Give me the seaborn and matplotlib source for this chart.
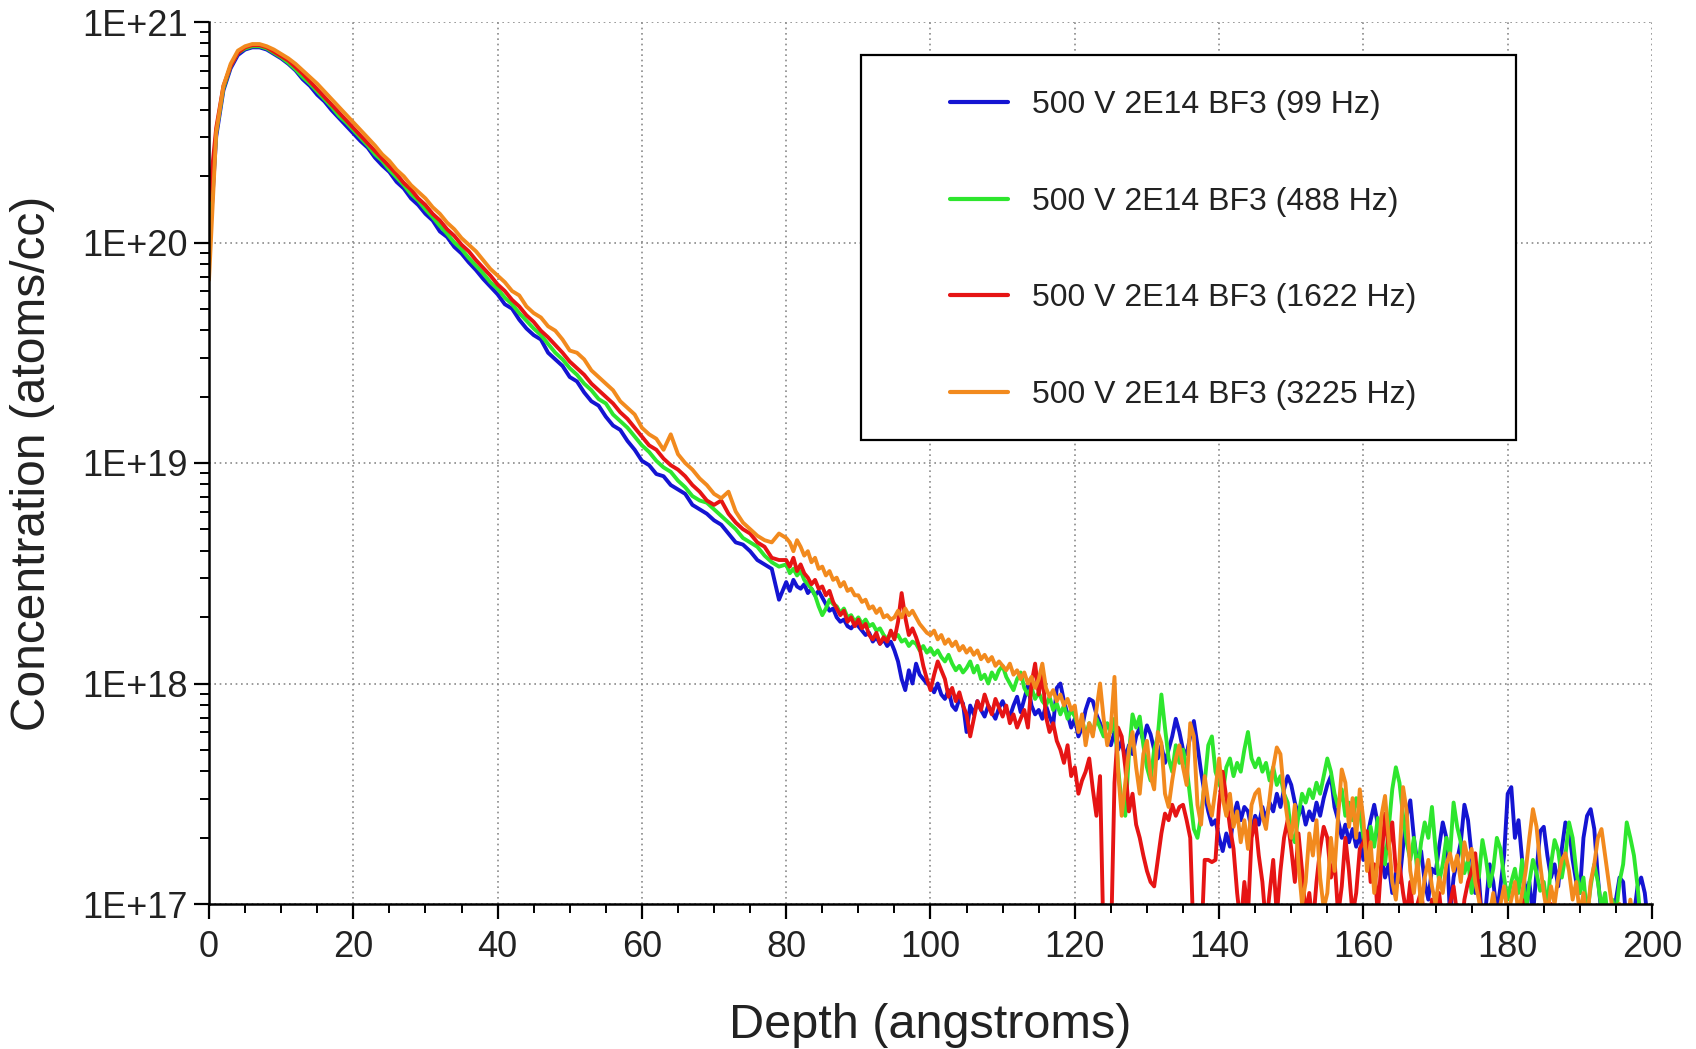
import numpy as np
import pandas as pd
import matplotlib
matplotlib.use("Agg")
import matplotlib.pyplot as plt
import seaborn as sns
from matplotlib.lines import Line2D
from matplotlib.patches import Rectangle
from matplotlib.ticker import LogLocator, MultipleLocator, FuncFormatter, NullFormatter, FixedLocator

# ---------------- data (log10 of concentration, atoms/cc) ----------------
series_names = ["500 V 2E14 BF3 (99 Hz)", "500 V 2E14 BF3 (488 Hz)",
                "500 V 2E14 BF3 (1622 Hz)", "500 V 2E14 BF3 (3225 Hz)"]
series_colors = ["#1414d2", "#2ee62e", "#e61414", "#f28a1e"]

depth_a = np.arange(0, 80, 1.0)        # 0 .. 79 A
depth_b = np.arange(80, 200, 0.5)      # 80 .. 199.5 A

blue_a = [
    19.95, 20.48, 20.69, 20.79, 20.85, 20.875, 20.885, 20.885, 20.875, 20.855,
    20.835, 20.81, 20.78, 20.74, 20.71, 20.67, 20.64, 20.60, 20.565, 20.53,
    20.495, 20.46, 20.43, 20.385, 20.35, 20.32, 20.275, 20.245, 20.20, 20.17,
    20.13, 20.10, 20.05, 20.025, 19.98, 19.95, 19.91, 19.875, 19.835, 19.80,
    19.765, 19.72, 19.70, 19.65, 19.61, 19.58, 19.56, 19.50, 19.47, 19.44,
    19.39, 19.37, 19.32, 19.28, 19.26, 19.21, 19.17, 19.15, 19.10, 19.06,
    19.01, 18.99, 18.95, 18.94, 18.90, 18.88, 18.86, 18.81, 18.79, 18.77,
    18.74, 18.72, 18.68, 18.64, 18.63, 18.60, 18.56, 18.54, 18.52, 18.38,
]
blue_b = [
    18.46, 18.42, 18.47, 18.44, 18.43, 18.45, 18.41, 18.43, 18.40, 18.42,
    18.39, 18.36, 18.33, 18.34, 18.30, 18.28, 18.29, 18.26, 18.25, 18.27,
    18.26, 18.24, 18.22, 18.23, 18.19, 18.21, 18.18, 18.20, 18.17, 18.19,
    18.15, 18.10, 18.02, 17.97, 18.06, 18.00, 18.09, 18.04, 18.02, 18.00,
    17.99, 17.96, 18.00, 17.95, 17.93, 17.97, 17.90, 17.88, 17.93, 17.91,
    17.78, 17.90, 17.86, 17.92, 17.88, 17.85, 17.90, 17.87, 17.84, 17.89,
    17.92, 17.88, 17.85, 17.90, 17.94, 17.87, 17.93, 17.99, 17.90, 17.86,
    17.88, 17.84, 17.90, 17.85, 17.81, 17.98, 18.00, 17.92, 17.86, 17.80,
    17.84, 17.76, 17.80, 17.88, 17.93, 17.92, 17.86, 17.82, 17.78, 17.75,
    17.72, 17.78, 17.70, 17.74, 17.66, 17.72, 17.68, 17.76, 17.80, 17.74,
    17.81, 17.77, 17.70, 17.66, 17.72, 17.64, 17.70, 17.76, 17.84, 17.78,
    17.70, 17.68, 17.76, 17.83, 17.72, 17.60, 17.50, 17.42, 17.36, 17.38,
    17.30, 17.24, 17.32, 17.26, 17.40, 17.46, 17.38, 17.44, 17.42, 17.34,
    17.40, 17.36, 17.44, 17.38, 17.46, 17.42, 17.50, 17.44, 17.52, 17.58,
    17.54, 17.46, 17.40, 17.44, 17.36, 17.42, 17.38, 17.46, 17.40, 17.48,
    17.54, 17.58, 17.44, 17.38, 17.30, 17.36, 17.28, 17.34, 17.26, 17.32,
    17.20, 17.30, 17.38, 17.45, 17.36, 17.22, 17.12, 17.18, 17.05, 17.14,
    17.10, 17.26, 17.40, 17.47, 17.30, 17.18, 17.24, 17.10, 17.02, 17.16,
    17.14, 17.26, 17.37, 17.30, 16.95, 17.12, 17.20, 17.28, 17.45, 17.38,
    17.22, 17.05, 17.12, 16.90, 17.00, 17.18, 17.10, 16.96, 17.08, 17.22,
    17.50, 17.53, 17.30, 17.38, 17.20, 17.04, 17.10, 16.95, 17.15, 17.33,
    17.35, 17.22, 17.12, 17.18, 17.08, 17.25, 17.37, 17.34, 17.20, 17.10,
    17.05, 17.30, 17.40, 17.43, 17.34, 17.12, 16.95, 16.85, 16.92, 16.88,
    17.02, 17.12, 17.10, 16.90, 16.85, 16.95, 17.08, 17.12, 17.05, 16.90,
]

green_a = [
    19.98, 20.50, 20.70, 20.80, 20.86, 20.88, 20.89, 20.89, 20.88, 20.86,
    20.84, 20.815, 20.785, 20.75, 20.72, 20.685, 20.65, 20.615, 20.575, 20.545,
    20.51, 20.475, 20.44, 20.40, 20.37, 20.33, 20.295, 20.26, 20.22, 20.19,
    20.15, 20.115, 20.075, 20.04, 20.00, 19.97, 19.93, 19.895, 19.86, 19.82,
    19.79, 19.75, 19.72, 19.68, 19.645, 19.61, 19.58, 19.54, 19.50, 19.47,
    19.43, 19.40, 19.36, 19.33, 19.29, 19.27, 19.22, 19.19, 19.16, 19.12,
    19.08, 19.05, 19.01, 18.98, 18.96, 18.92, 18.89, 18.85, 18.83, 18.82,
    18.79, 18.76, 18.73, 18.70, 18.66, 18.64, 18.62, 18.58, 18.55, 18.53,
]
green_b = [
    18.54, 18.50, 18.52, 18.49, 18.51, 18.47, 18.45, 18.43, 18.40, 18.35,
    18.31, 18.34, 18.38, 18.36, 18.35, 18.32, 18.34, 18.30, 18.31, 18.28,
    18.30, 18.27, 18.29, 18.26, 18.27, 18.24, 18.25, 18.22, 18.20, 18.23,
    18.21, 18.22, 18.19, 18.20, 18.17, 18.19, 18.18, 18.15, 18.17, 18.14,
    18.16, 18.13, 18.15, 18.12, 18.10, 18.13, 18.09, 18.06, 18.08, 18.05,
    18.07, 18.10, 18.05, 18.08, 18.02, 18.04, 18.00, 18.05, 18.02, 18.06,
    18.08, 18.03, 18.00, 17.97, 18.02, 18.05, 17.98, 17.95, 17.98, 17.93,
    17.96, 17.92, 17.90, 17.94, 17.88, 17.91, 17.86, 17.90, 17.84, 17.88,
    17.85, 17.80, 17.84, 17.76, 17.82, 17.78, 17.84, 17.80, 17.76, 17.82,
    17.78, 17.84, 17.62, 17.45, 17.40, 17.68, 17.86, 17.80, 17.85, 17.72,
    17.62, 17.56, 17.70, 17.76, 17.95, 17.80, 17.66, 17.60, 17.72, 17.64,
    17.70, 17.62, 17.48, 17.34, 17.30, 17.40, 17.55, 17.72, 17.76, 17.60,
    17.55, 17.50, 17.62, 17.66, 17.58, 17.64, 17.60, 17.70, 17.78, 17.66,
    17.62, 17.66, 17.60, 17.64, 17.56, 17.62, 17.54, 17.58, 17.50, 17.46,
    17.32, 17.28, 17.40, 17.50, 17.46, 17.52, 17.48, 17.55, 17.50, 17.58,
    17.66, 17.60, 17.50, 17.44, 17.52, 17.40, 17.46, 17.38, 17.48, 17.42,
    17.30, 17.22, 17.35, 17.26, 17.39, 17.30, 17.18, 17.34, 17.52, 17.62,
    17.55, 17.40, 17.28, 17.20, 17.30, 17.14, 17.28, 17.37, 17.30, 17.44,
    17.25, 17.10, 17.18, 17.30, 17.22, 17.46, 17.35, 17.28, 17.14, 17.20,
    17.05, 17.18, 17.12, 17.29, 17.20, 17.08, 17.16, 17.30, 17.25, 17.12,
    17.02, 17.10, 17.16, 17.05, 17.20, 16.95, 17.10, 17.20, 17.14, 17.06,
    17.10, 16.98, 17.18, 17.29, 17.24, 17.12, 17.22, 17.37, 17.30, 17.15,
    17.05, 17.12, 16.95, 17.08, 17.18, 17.10, 16.98, 17.05, 16.90, 17.02,
    16.95, 17.10, 17.18, 17.37, 17.30, 17.22, 17.08, 16.90, 16.85, 16.85,
]

red_a = [
    20.19, 20.52, 20.71, 20.80, 20.86, 20.885, 20.895, 20.895, 20.885, 20.865,
    20.845, 20.825, 20.795, 20.765, 20.73, 20.695, 20.66, 20.625, 20.59, 20.555,
    20.52, 20.485, 20.45, 20.415, 20.38, 20.345, 20.31, 20.27, 20.24, 20.20,
    20.17, 20.13, 20.10, 20.06, 20.03, 19.99, 19.96, 19.92, 19.885, 19.85,
    19.81, 19.78, 19.74, 19.71, 19.67, 19.64, 19.60, 19.57, 19.535, 19.50,
    19.46, 19.43, 19.40, 19.36, 19.33, 19.30, 19.27, 19.23, 19.20, 19.16,
    19.12, 19.08, 19.06, 19.02, 18.99, 18.97, 18.94, 18.90, 18.87, 18.83,
    18.81, 18.83, 18.77, 18.73, 18.70, 18.68, 18.64, 18.62, 18.57, 18.56,
]
red_b = [
    18.56, 18.53, 18.57, 18.51, 18.54, 18.50, 18.48, 18.45, 18.47, 18.43,
    18.44, 18.40, 18.42, 18.37, 18.34, 18.31, 18.33, 18.28, 18.30, 18.26,
    18.29, 18.25, 18.27, 18.22, 18.20, 18.23, 18.18, 18.21, 18.19, 18.24,
    18.20, 18.28, 18.41, 18.30, 18.22, 18.25, 18.21, 18.16, 18.08, 18.02,
    17.97, 18.04, 18.10, 18.06, 18.02, 17.94, 17.98, 17.92, 17.96, 17.90,
    17.86, 17.76, 17.84, 17.92, 17.88, 17.95, 17.90, 17.86, 17.93, 17.89,
    17.85, 17.90, 17.82, 17.86, 17.80, 17.84, 17.88, 17.80, 18.00, 18.09,
    17.95, 18.05, 17.85, 17.78, 17.82, 17.74, 17.70, 17.64, 17.72, 17.58,
    17.62, 17.50, 17.56, 17.60, 17.66, 17.52, 17.40, 17.58, 16.80, 16.80,
    16.80, 17.55, 17.80, 17.76, 17.62, 17.42, 17.50, 17.36, 17.30, 17.22,
    17.15, 17.10, 17.08, 17.20, 17.32, 17.41, 17.38, 17.45, 17.40, 17.44,
    17.45, 17.38, 17.30, 16.80, 16.80, 16.80, 17.20, 17.20, 17.19, 17.20,
    17.45, 17.60, 17.48, 17.35, 17.25, 17.05, 16.90, 17.10, 16.95, 17.30,
    17.38, 17.22, 17.10, 16.90, 17.05, 17.20, 16.95, 17.15, 17.30, 17.38,
    17.25, 17.10, 17.32, 17.15, 16.95, 17.05, 16.90, 17.10, 17.25, 17.35,
    17.30, 17.12, 17.20, 16.95, 17.08, 17.30, 17.15, 16.95, 17.05, 17.25,
    17.28, 17.33, 17.10, 17.18, 16.95, 17.20, 17.41, 17.25, 17.37, 17.15,
    17.18, 17.05, 16.95, 17.10, 16.90, 17.00, 17.06, 16.92, 16.85, 17.02,
    16.95, 17.05, 16.90, 16.88, 17.00, 17.08, 16.95, 16.85, 17.02, 17.10,
    17.15, 17.23, 17.05, 16.92, 16.85, 16.98, 17.02, 16.90, 16.85, 16.95,
    16.98, 16.90, 16.85, 16.96, 17.02, 16.92, 16.85, 16.95, 16.98, 16.90,
    16.85, 16.95, 17.00, 16.92, 16.85, 16.96, 16.90, 16.85, 16.95, 16.98,
    16.92, 16.85, 16.95, 16.98, 16.90, 16.85, 16.92, 16.96, 16.88, 16.85,
    16.95, 16.98, 16.90, 16.85, 16.92, 16.85, 16.85, 16.90, 16.85, 16.85,
]

orange_a = [
    19.83, 20.50, 20.71, 20.81, 20.87, 20.89, 20.90, 20.90, 20.89, 20.875,
    20.855, 20.835, 20.81, 20.78, 20.75, 20.72, 20.685, 20.65, 20.615, 20.58,
    20.545, 20.51, 20.475, 20.44, 20.40, 20.37, 20.33, 20.30, 20.26, 20.23,
    20.20, 20.16, 20.13, 20.09, 20.06, 20.02, 19.99, 19.96, 19.92, 19.88,
    19.85, 19.82, 19.78, 19.76, 19.71, 19.68, 19.66, 19.62, 19.60, 19.56,
    19.51, 19.50, 19.47, 19.42, 19.39, 19.36, 19.33, 19.28, 19.25, 19.22,
    19.16, 19.13, 19.11, 19.06, 19.13, 19.04, 19.00, 18.97, 18.93, 18.90,
    18.86, 18.84, 18.87, 18.78, 18.73, 18.70, 18.67, 18.65, 18.64, 18.68,
]
orange_b = [
    18.66, 18.64, 18.60, 18.65, 18.62, 18.58, 18.60, 18.55, 18.57, 18.52,
    18.53, 18.49, 18.51, 18.47, 18.48, 18.44, 18.46, 18.42, 18.43, 18.40,
    18.40, 18.37, 18.38, 18.34, 18.35, 18.32, 18.34, 18.30, 18.31, 18.29,
    18.30, 18.33, 18.30, 18.34, 18.31, 18.33, 18.30, 18.27, 18.25, 18.23,
    18.22, 18.24, 18.20, 18.22, 18.18, 18.20, 18.17, 18.19, 18.15, 18.17,
    18.14, 18.16, 18.13, 18.15, 18.11, 18.13, 18.10, 18.12, 18.08, 18.10,
    18.08, 18.06, 18.09, 18.04, 18.06, 18.02, 18.05, 18.00, 18.03, 17.98,
    18.02, 18.09, 17.98, 17.94, 17.97, 17.92, 17.95, 17.90, 17.93, 17.88,
    17.90, 17.78, 17.86, 17.72, 17.82, 17.76, 17.88, 18.00, 17.84, 17.72,
    17.80, 18.03, 17.60, 17.40, 17.55, 17.70, 17.78, 17.62, 17.50, 17.68,
    17.74, 17.58, 17.52, 17.78, 17.73, 17.50, 17.44, 17.56, 17.66, 17.72,
    17.62, 17.54, 17.82, 17.76, 17.45, 17.36, 17.58, 17.46, 17.40, 17.52,
    17.66, 17.48, 17.40, 17.50, 17.35, 17.42, 17.28, 17.38, 17.25, 17.45,
    17.50, 17.52, 17.40, 17.34, 17.48, 17.62, 17.71, 17.68, 17.50, 17.38,
    17.30, 17.45, 17.18, 17.00, 17.10, 17.32, 17.22, 17.38, 17.12, 16.98,
    17.05, 17.30, 17.15, 17.40, 17.61, 17.55, 17.35, 17.48, 17.30, 17.52,
    17.38, 17.15, 17.28, 17.05, 17.20, 17.40, 17.49, 17.30, 17.10, 17.02,
    17.20, 17.53, 17.42, 17.15, 17.05, 17.20, 16.98, 17.12, 17.20, 17.08,
    17.00, 17.12, 17.05, 17.18, 17.23, 17.15, 17.22, 17.10, 17.28, 17.20,
    17.25, 17.10, 17.02, 16.92, 16.85, 16.95, 17.05, 16.92, 17.00, 17.08,
    16.95, 17.02, 17.10, 16.95, 17.05, 17.15, 17.30, 17.43, 17.35, 17.18,
    17.05, 16.95, 17.08, 17.00, 17.12, 17.20, 17.23, 17.15, 17.02, 17.10,
    16.95, 17.05, 16.92, 17.10, 17.18, 17.30, 17.34, 17.22, 17.10, 16.98,
    16.90, 17.00, 16.95, 16.88, 17.02, 16.90, 16.85, 16.92, 16.85, 16.85,
]

x_ticks = [0, 20, 40, 60, 80, 100, 120, 140, 160, 180, 200]
y_ticks = [1e17, 1e18, 1e19, 1e20, 1e21]

# ---------------- build long table ----------------
all_a = [blue_a, green_a, red_a, orange_a]
all_b = [blue_b, green_b, red_b, orange_b]
frames = []
for name, la, lb in zip(series_names, all_a, all_b):
    if len(la) != len(depth_a) or len(lb) != len(depth_b):
        raise ValueError(f"{name}: {len(la)} / {len(lb)}")
    d = np.concatenate([depth_a, depth_b])
    c = 10.0 ** np.concatenate([np.array(la), np.array(lb)])
    frames.append(pd.DataFrame({"depth": d, "conc": c, "series": name}))
df = pd.concat(frames, ignore_index=True)

# ---------------- style ----------------
sns.set_style("ticks")
plt.rcParams["font.family"] = ["Liberation Sans", "DejaVu Sans"]

fig = plt.figure(figsize=(16.96, 10.49), dpi=100)
ax = fig.add_axes([209 / 1696, 1 - 904 / 1049, 1443 / 1696, 882 / 1049])

sns.lineplot(data=df, x="depth", y="conc", hue="series", hue_order=series_names,
             palette=series_colors, estimator=None, sort=False, linewidth=2.8,
             legend=False, ax=ax, zorder=3)

ax.set_yscale("log")
ax.set_xlim(0, 200)
ax.set_ylim(1e17, 1e21)

ax.xaxis.set_major_locator(FixedLocator(x_ticks))
ax.xaxis.set_minor_locator(MultipleLocator(5))
ax.yaxis.set_major_locator(FixedLocator(y_ticks))
ax.yaxis.set_minor_locator(LogLocator(base=10, subs=np.arange(2, 10)))
ax.yaxis.set_minor_formatter(NullFormatter())
ax.yaxis.set_major_formatter(FuncFormatter(lambda v, p: f"1E+{int(round(np.log10(v)))}"))

ax.grid(True, which="major", color="#8a8a8a", linestyle=(0, (1, 2.2)), linewidth=1.2)
ax.set_axisbelow(True)
for s in ["top", "right"]:
    ax.spines[s].set_visible(False)
for s in ["left", "bottom"]:
    ax.spines[s].set_linewidth(1.8)
    ax.spines[s].set_color("black")
    ax.spines[s].set_zorder(6)

ax.tick_params(axis="both", which="major", direction="out", length=11, width=1.6,
               labelsize=26, color="black", labelcolor="#222222")
ax.tick_params(axis="x", which="major", pad=8)
ax.tick_params(axis="y", which="major", pad=4)
ax.tick_params(axis="both", which="minor", direction="out", length=6.5, width=1.4, color="black")

ax.set_xlabel("Depth (angstroms)", fontsize=35, color="#222222")
ax.set_ylabel("Concentration (atoms/cc)", fontsize=34.5, color="#222222")
ax.xaxis.set_label_coords(0.5, -0.112)
ax.yaxis.set_label_coords(-0.107, 0.5)

# legend box
ax.add_patch(Rectangle((0.4518, 0.5261), 0.454, 0.4365, transform=ax.transAxes,
                       facecolor="white", edgecolor="black", linewidth=1.6, zorder=7))
handles = [Line2D([0], [0], color=c, lw=3) for c in series_colors]
leg = ax.legend(handles, series_names, loc="upper left", bbox_to_anchor=(0.5025, 0.9405),
                frameon=False, borderpad=0, handlelength=1.8, handletextpad=0.75,
                labelspacing=2.08, fontsize=23)
leg.set_zorder(8)
for t in leg.get_texts():
    t.set_color("#222222")

fig.savefig("out.png", dpi=100)
